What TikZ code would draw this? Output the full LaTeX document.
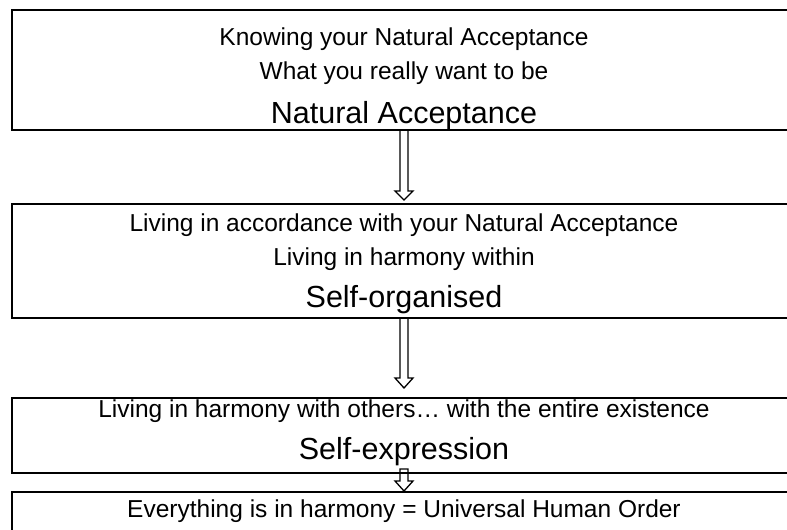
\documentclass[tikz,border=0pt]{standalone}
\usepackage{fontspec}
\setmainfont{Liberation Sans}
\usetikzlibrary{calc}
\tikzset{
  box/.style={draw, line width=1.8pt, minimum width=784pt, inner sep=0pt, outer sep=0pt},
  small/.style={font=\fontsize{24.5}{29}\selectfont, anchor=base, inner sep=0pt},
  big/.style={font=\fontsize{30.5}{36}\selectfont, anchor=base, inner sep=0pt},
  harrow/.style={draw, line width=1.3pt, line join=miter}
}
% hollow downward arrow: #1 upper box, #2 lower box, #3 top offset,
% #4 head start offset, #5 tip offset (offsets measured downward)
\newcommand\hollowdown[5]{%
  \draw[harrow] ($(#1.south)+(-4,#3)$) -- ($(#2.north)+(-4,#4)$)
    -- ($(#2.north)+(-9,#4)$) -- ($(#2.north)+(0,#5)$)
    -- ($(#2.north)+(9,#4)$) -- ($(#2.north)+(4,#4)$)
    -- ($(#1.south)+(4,#3)$) -- cycle;}
\begin{document}
\begin{tikzpicture}[x=1pt,y=-1pt]
\clip (0,0) rectangle (787,530);

% stages
\node[box, minimum height=120pt] (b1) at (404,70) {};
\node[box, minimum height=114pt] (b2) at (404,261) {};
\node[box, minimum height=75pt]  (b3) at (404,435.5) {};
\node[box, minimum height=70pt]  (b4) at (404,527) {};

% texts
\node[small] (t1a) at (404,45)  {Knowing your Natural Acceptance};
\node[small] (t1b) at (404,79)  {What you really want to be};
\node[big]   (t1c) at (404,123) {Natural Acceptance};

\node[small] (t2a) at (404,231.5) {Living in accordance with your Natural Acceptance};
\node[small] (t2b) at (404,265.5) {Living in harmony within};
\node[big]   (t2c) at (404,307)   {Self-organised};

\node[small] (t3a) at (404,417) {Living in harmony with others… with the entire existence};
\node[big]   (t3b) at (404,459) {Self-expression};

\node[small] (t4a) at (404,517) {Everything is in harmony = Universal Human Order};

% connectors
\hollowdown{b1}{b2}{0}{-13}{-4}
\hollowdown{b2}{b3}{0}{-20}{-10}
\hollowdown{b3}{b4}{-4}{-11}{-1}
\end{tikzpicture}
\end{document}
